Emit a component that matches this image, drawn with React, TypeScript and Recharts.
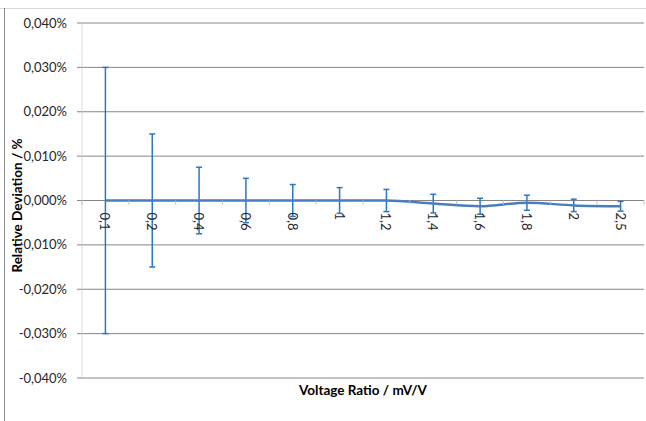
import React from 'react';
import { ComposedChart, Line, ErrorBar, XAxis, YAxis, CartesianGrid } from 'recharts';

const categories = ['0,1', '0,2', '0,4', '0,6', '0,8', '1', '1,2', '1,4', '1,6', '1,8', '2', '2,5'];
const deviation = [0, 0, 0, 0, 0, 0, 0, -0.0007, -0.0013, -0.0005, -0.0011, -0.0013];
const uncertainty = [0.03, 0.015, 0.0075, 0.005, 0.0036, 0.0029, 0.0025, 0.0021, 0.0018, 0.0017, 0.0014, 0.0011];
const yTicks = [-0.04, -0.03, -0.02, -0.01, 0, 0.01, 0.02, 0.03, 0.04];

const data = categories.map((c, i) => ({ cat: c, dev: deviation[i], err: uncertainty[i] }));

const W = 646;
const H = 421;
const M = { top: 23, right: 2, bottom: 0, left: 0 };
const Y_W = 82;
const X_H = 43;
const PLOT_H = H - M.top - M.bottom - X_H;
const PLOT_W = W - M.left - M.right - Y_W;
const BAND = PLOT_W / categories.length;
const FONT = 'Lato, "Open Sans", sans-serif';

const fmt = (v: number) => (Math.abs(v) < 1e-9 ? 0 : v).toFixed(3).replace('.', ',') + '%';

const XTick = (props: any) => {
  const { x, y, payload, index } = props;
  const y0 = y - PLOT_H / 2;
  const last = index === categories.length - 1;
  return (
    <g>
      <line x1={x - BAND / 2} x2={x - BAND / 2} y1={y0} y2={y0 + 4} stroke="#bfbfbf" strokeWidth={1} />
      {last && <line x1={x + BAND / 2} x2={x + BAND / 2} y1={y0} y2={y0 + 4} stroke="#bfbfbf" strokeWidth={1} />}
      <text
        x={x}
        y={y0 + 12}
        transform={`rotate(90, ${x}, ${y0 + 12})`}
        textAnchor="start"
        dominantBaseline="central"
        fontSize={13}
        fontFamily={FONT}
        fill="#262626"
      >
        {payload.value}
      </text>
    </g>
  );
};

const XTitle = (props: any) => {
  const vb = props.viewBox;
  return (
    <text x={vb.x + vb.width / 2} y={vb.y + 17} textAnchor="middle" fontSize={13.5} fontWeight="bold" fontFamily={FONT} fill="#000">
      Voltage Ratio / mV/V
    </text>
  );
};

const YTitle = (props: any) => {
  const vb = props.viewBox;
  const cx = 17;
  const cy = vb.y + vb.height / 2 + 5;
  return (
    <text
      x={cx}
      y={cy}
      transform={`rotate(-90, ${cx}, ${cy})`}
      textAnchor="middle"
      dominantBaseline="central"
      fontSize={13.5}
      fontWeight="bold"
      fontFamily={FONT}
      fill="#000"
    >
      Relative Deviation / %
    </text>
  );
};

export default function App() {
  return (
    <div style={{ position: 'absolute', left: 0, top: 0, width: W, height: H, background: '#fff' }}>
      <div style={{ position: 'absolute', left: 0, top: 8, width: W, height: 1, background: '#d9d9d9' }} />
      <div style={{ position: 'absolute', left: 4, top: 8, width: 1, height: H - 8, background: '#8c8c8c' }} />
      <div style={{ position: 'absolute', left: 0, top: 0 }}>
        <ComposedChart width={W} height={H} data={data} margin={M}>
          <CartesianGrid vertical={false} stroke="#868686" strokeWidth={1} />
          <XAxis
            dataKey="cat"
            scale="band"
            height={X_H}
            axisLine={false}
            tickLine={false}
            tickSize={0}
            tickMargin={0}
            interval={0}
            tick={<XTick />}
            label={<XTitle />}
          />
          <YAxis
            width={Y_W}
            domain={[-0.04, 0.04]}
            ticks={yTicks}
            tickFormatter={fmt}
            axisLine={{ stroke: '#d9d9d9' }}
            tickLine={{ stroke: '#868686' }}
            tickSize={5}
            tickMargin={10}
            tick={{ fontSize: 13, fontFamily: FONT, fill: '#262626' }}
            label={<YTitle />}
          />
          <Line
            dataKey="dev"
            type="monotone"
            stroke="#4a7ebb"
            strokeWidth={2.5}
            dot={false}
            isAnimationActive={false}
          >
            <ErrorBar dataKey="err" direction="y" width={3} stroke="#2a78c2" strokeWidth={1.5} isAnimationActive={false} />
          </Line>
        </ComposedChart>
      </div>
    </div>
  );
}
